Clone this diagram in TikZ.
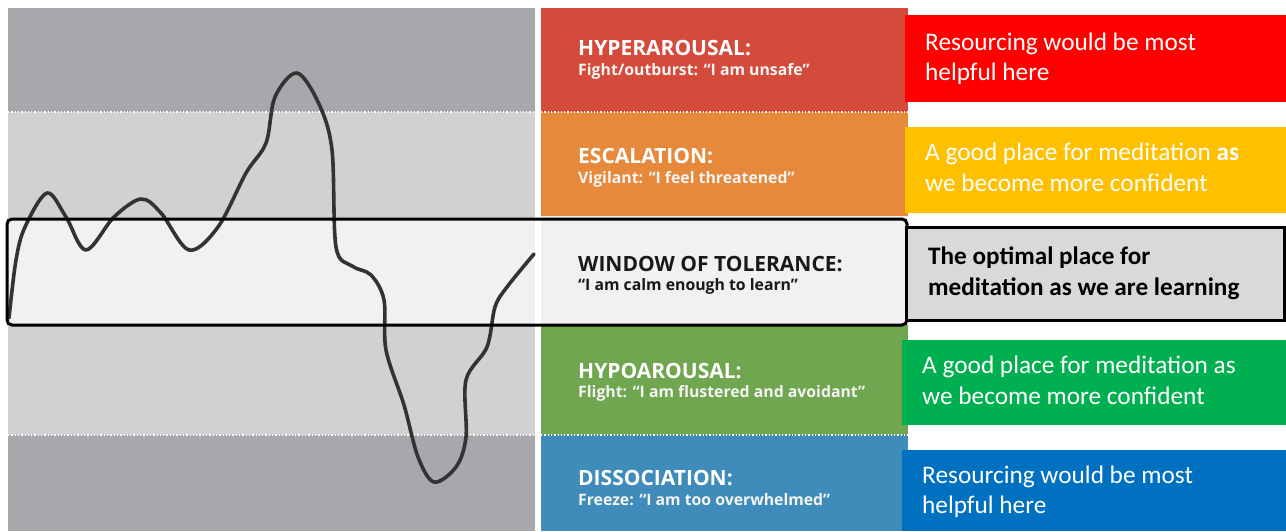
\documentclass[tikz,border=0pt]{standalone}
\usepackage{fontspec}
\setmainfont{Carlito}
\newfontfamily\osans{Open Sans}
\begin{document}
\begin{tikzpicture}[x=1pt,y=-1pt,
  zonetitle/.style={anchor=base west,inner sep=0pt,text=white,font=\osans\bfseries\fontsize{21}{23}\selectfont},
  zonesub/.style={anchor=base west,inner sep=0pt,text=white!92!gray,font=\osans\bfseries\fontsize{15.8}{18}\selectfont},
  advice/.style={anchor=base west,inner sep=0pt,text=white,font=\fontsize{25.3}{30}\selectfont},
  advicebold/.style={advice,text=black,font=\bfseries\fontsize{25.2}{30}\selectfont},
  sep/.style={white,dotted,line width=1.3pt},
  wave/.style={draw=black!80,line width=3.6pt,line cap=round,line join=round}]
\definecolor{bandDark}{HTML}{A7A8AB}
\definecolor{bandLight}{HTML}{D0D1D3}
\definecolor{bandWin}{HTML}{F1F1F3}
\definecolor{hyperC}{HTML}{D44B3B}
\definecolor{escC}{HTML}{E6893B}
\definecolor{hypoC}{HTML}{70A64F}
\definecolor{dissC}{HTML}{3F8BBA}
\definecolor{redBox}{HTML}{FF0000}
\definecolor{yellowBox}{HTML}{FFC000}
\definecolor{grayBox}{HTML}{D9D9D9}
\definecolor{greenBox}{HTML}{00B050}
\definecolor{blueBox}{HTML}{0070C0}
\useasboundingbox (0,0) rectangle (1286,531);
\fill[white] (0,0) rectangle (1286,531);
% grey arousal bands behind the wave
\fill[bandDark]  (8,8)   rectangle (535,112);
\fill[bandLight] (8,112) rectangle (535,218);
\fill[bandWin]   (8,218) rectangle (535,325);
\fill[bandLight] (8,325) rectangle (535,435);
\fill[bandDark]  (8,435) rectangle (535,531);
% coloured zone column
\fill[hyperC] (541,8)   rectangle (908,112);
\fill[escC]   (541,112) rectangle (908,216);
\fill[bandWin](541,216) rectangle (908,325);
\fill[hypoC]  (541,325) rectangle (908,435);
\fill[dissC]  (541,435) rectangle (908,531);
% dotted zone separators
\draw[sep] (8,112) -- (535,112);
\draw[sep] (541,112) -- (908,112);
\draw[sep] (8,435) -- (535,435);
\draw[sep] (541,435) -- (908,435);
% arousal wave
\draw[wave] plot[smooth,tension=0.55] coordinates {
  (9,318) (16,260) (25,227) (47,193) (66,217) (86,250) (114,217) (141,199)
  (161,213) (189,250) (218,227) (246,173) (266,143) (275,97) (297,73)
  (319,104) (332,150) (336,247) (352,266) (371,275) (384,300) (386,350)
  (404,405) (418,457) (434,482) (456,467) (466,437) (466,380) (487,347)
  (495,307) (507,287) (534,254)};
% window of tolerance frame
\draw[line width=3pt,rounded corners=5pt] (7,219) rectangle (907,325);
% advice boxes
\fill[redBox]    (905,15)  rectangle (1286,102);
\fill[yellowBox] (905,127) rectangle (1286,213);
\draw[line width=3pt,fill=grayBox] (906,227) rectangle (1284.5,320);
\fill[greenBox]  (902,340) rectangle (1286,425);
\fill[blueBox]   (902,450) rectangle (1286,531);
% zone labels
\node[zonetitle] (t1) at (578,55) {HYPERAROUSAL:};
\node[zonesub]   (s1) at (578,75) {Fight/outburst: “I am unsafe”};
\node[zonetitle] (t2) at (578,163) {ESCALATION:};
\node[zonesub]   (s2) at (578,183) {Vigilant: “I feel threatened”};
\node[zonetitle,text=black!90] (t3) at (578,271) {WINDOW OF TOLERANCE:};
\node[zonesub,text=black!90]   (s3) at (578,290) {“I am calm enough to learn”};
\node[zonetitle] (t4) at (578,378) {HYPOAROUSAL:};
\node[zonesub]   (s4) at (578,397) {Flight: “I am flustered and avoidant”};
\node[zonetitle] (t5) at (578,485) {DISSOCIATION:};
\node[zonesub]   (s5) at (578,505) {Freeze: “I am too overwhelmed”};
% advice texts
\node[advice] (a1) at (925,50)  {Resourcing would be most};
\node[advice] (a1b) at (925,80) {helpful here};
\node[advice] (a2) at (925,160) {A good place for meditation \textbf{as}};
\node[advice] (a2b) at (925,191) {we become more confident};
\node[advicebold] (a3) at (928,264) {The optimal place for};
\node[advicebold] (a3b) at (928,295) {meditation as we are learning};
\node[advice] (a4) at (922,373) {A good place for meditation as};
\node[advice] (a4b) at (922,404) {we become more confident};
\node[advice] (a5) at (922,483) {Resourcing would be most};
\node[advice] (a5b) at (922,513) {helpful here};
\end{tikzpicture}
\end{document}
